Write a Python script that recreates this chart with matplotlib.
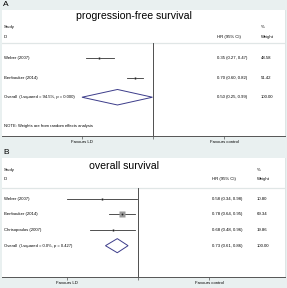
import numpy as np
import matplotlib
matplotlib.use("Agg")
import matplotlib.pyplot as plt
import matplotlib.transforms as mtrans

plt.rcParams['font.family'] = ['Liberation Sans', 'DejaVu Sans']

# panel A: progression-free survival
a_studies = ["Weber (2007)", "Benbouker (2014)"]
a_hr = [0.35, 0.70]
a_lo = [0.27, 0.60]
a_hi = [0.47, 0.82]
a_wt = [48.58, 51.42]
a_overall = (0.50, 0.25, 0.99)
a_overall_label = "Overall  (I-squared = 94.5%, p = 0.000)"
a_ticks = [0.25, 1, 4]

# panel B: overall survival
b_studies = ["Weber (2007)", "Benbouker (2014)", "Chrisopoulos (2007)"]
b_hr = [0.58, 0.78, 0.68]
b_lo = [0.34, 0.64, 0.48]
b_hi = [0.98, 0.95, 0.96]
b_wt = [10.80, 69.34, 19.86]
b_overall = (0.73, 0.61, 0.86)
b_overall_label = "Overall  (I-squared = 0.0%, p = 0.427)"
b_ticks = [0.34, 1, 2.94]

W, H = 287, 288
fig = plt.figure(figsize=(W / 100, H / 100), dpi=100)
fig.patch.set_facecolor("#e9f0f0")

small = 3.1
navy = "#3c3c8a"


def panel(rect_px, ylim, xlim, studies, hr, lo, hi, wt, overall, olabel,
          ticks, title, title_x, title_y, hdr, sep_y, note_y, hr_x, wt_x, msz):
    x0, y0, x1, y1 = rect_px
    ax = fig.add_axes([x0 / W, 1 - y1 / H, (x1 - x0) / W, (y1 - y0) / H])
    ax.set_facecolor("white")
    ax.set_xscale("log")
    ax.set_xlim(*xlim)
    ax.set_ylim(*ylim)
    for s in ["top", "left"]:
        ax.spines[s].set_visible(False)
    ax.spines["right"].set_color("#dde3e3")
    ax.spines["right"].set_linewidth(0.6)
    ax.spines["bottom"].set_color("#555555")
    ax.spines["bottom"].set_linewidth(0.7)
    ax.set_yticks([])
    ax.set_xticks(ticks)
    ax.set_xticklabels(["Favours LD", "", "Favours control"])
    ax.xaxis.set_minor_locator(matplotlib.ticker.NullLocator())
    ax.tick_params(axis="x", length=2, width=0.5, color="#555555",
                   labelsize=small, pad=1)

    tr = mtrans.blended_transform_factory(ax.transAxes, ax.transData)
    rows = np.arange(1, len(studies) + 1)

    # header
    ax.text(0.007, hdr[0], "Study", transform=tr, fontsize=small, va="center")
    ax.text(0.007, hdr[1], "ID", transform=tr, fontsize=small, va="center")
    ax.text(hr_x, hdr[1], "HR (95% CI)", transform=tr, fontsize=small, va="center")
    ax.text(wt_x, hdr[0], "%", transform=tr, fontsize=small, va="center")
    ax.text(wt_x, hdr[1], "Weight", transform=tr, fontsize=small, va="center")
    ax.plot([0, 1], [sep_y, sep_y], transform=tr, color="#e0e6e6", lw=0.9)
    ax.text(title_x, title_y, title, transform=tr, fontsize=7.6,
            ha="center", va="center")

    # null line
    ax.plot([1, 1], [sep_y, ylim[0]], color="#333333", lw=0.6)

    # studies
    for i, r in enumerate(rows):
        ax.plot([lo[i], hi[i]], [r, r], color="#333333", lw=0.6)
        ax.plot(hr[i], r, marker="s", color="#9a9a9a", mec="none",
                ms=msz * np.sqrt(wt[i]))
        ax.plot(hr[i], r, marker="o", color="#222222", mec="none", ms=1.3)
        ax.text(0.007, r, studies[i], transform=tr, fontsize=small, va="center")
        ax.text(hr_x, r, "%.2f (%.2f, %.2f)" % (hr[i], lo[i], hi[i]),
                transform=tr, fontsize=small, va="center")
        ax.text(wt_x, r, "%.2f" % wt[i], transform=tr, fontsize=small, va="center")

    # overall diamond
    ro = len(studies) + 1
    est, olo, ohi = overall
    dh = 0.4 if len(studies) < 3 else 0.45
    ax.fill([olo, est, ohi, est, olo], [ro, ro - dh, ro, ro + dh, ro],
            facecolor="none", edgecolor=navy, lw=0.7)
    ax.text(0.007, ro, olabel, transform=tr, fontsize=small - 0.1, va="center")
    ax.text(hr_x, ro, "%.2f (%.2f, %.2f)" % overall, transform=tr,
            fontsize=small, va="center")
    ax.text(wt_x, ro, "100.00", transform=tr, fontsize=small, va="center")
    if note_y is not None:
        ax.text(0.007, note_y, "NOTE: Weights are from random effects analysis",
                transform=tr, fontsize=small - 0.1, va="center")
    return ax


panel((2, 10, 285, 136), (5, -1.5), (0.0524, 13.2),
      a_studies, a_hr, a_lo, a_hi, a_wt, a_overall, a_overall_label,
      a_ticks, "progression-free survival", 0.466, -1.19,
      (-0.62, -0.11), 0.2, 4.49, 0.76, 0.915, 0.25)

panel((2, 158, 285, 277), (6, -1.6), (0.1266, 9.34),
      b_studies, b_hr, b_lo, b_hi, b_wt, b_overall, b_overall_label,
      b_ticks, "overall survival", 0.431, -1.09,
      (-0.83, -0.26), 0.32, None, 0.742, 0.901, 0.45)

fig.text(3 / W, 1 - 5 / H, "A", fontsize=6, va="center", ha="left")
fig.text(3 / W, 1 - 153 / H, "B", fontsize=6, va="center", ha="left")

fig.savefig("out.png", dpi=100, facecolor=fig.get_facecolor())
